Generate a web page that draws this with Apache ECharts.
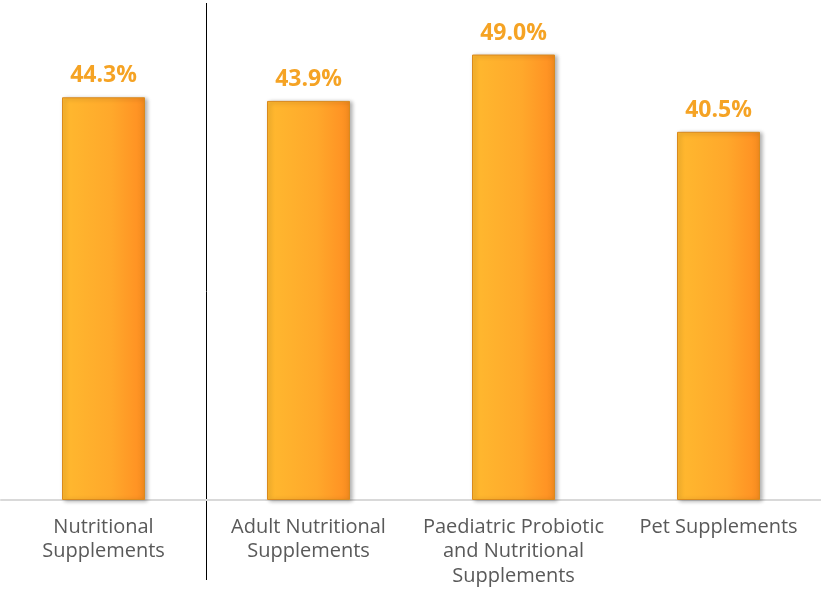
<!DOCTYPE html>
<html><head><meta charset="utf-8">
<script src="https://cdn.jsdelivr.net/npm/echarts@6/dist/echarts.min.js"></script>
<style>html,body{margin:0;padding:0;background:#fff}#c{width:821px;height:589px}</style>
</head><body><div id="c"></div>
<script>
const categories = ['Nutritional\nSupplements', 'Adult Nutritional\nSupplements', 'Paediatric Probiotic\nand Nutritional\nSupplements', 'Pet Supplements'];
const values = [44.3, 43.9, 49.0, 40.5];

const chart = echarts.init(document.getElementById('c'));
const barColor = new echarts.graphic.LinearGradient(0, 0, 1, 0, [
  {offset: 0, color: '#FFB92F'},
  {offset: 0.6, color: '#FFA82B'},
  {offset: 0.9, color: '#FF9424'},
  {offset: 1, color: '#F28A1E'}
]);
chart.setOption({
  animation: false,
  grid: {left: 1, width: 822, top: 0, height: 500},
  xAxis: {
    type: 'category', data: categories,
    axisLine: {lineStyle: {color: '#D9D9D9', width: 2}},
    axisTick: {show: false},
    axisLabel: {color: '#595959', fontSize: 20, lineHeight: 24.5, margin: 15, fontFamily: 'Open Sans', interval: 0}
  },
  yAxis: {type: 'value', min: 0, max: 55, show: false, splitLine: {show: false}},
  series: [{
    type: 'bar', data: values, barWidth: 83,
    itemStyle: {
      color: barColor,
      borderColor: '#D98A1E', borderWidth: 1,
      shadowColor: 'rgba(0,0,0,0.3)', shadowBlur: 4, shadowOffsetX: 2, shadowOffsetY: 1
    },
    label: {
      show: true, position: 'top', distance: 10,
      formatter: p => p.value.toFixed(1) + '%',
      color: '#F5A324', fontSize: 23, fontWeight: 'bold', fontFamily: 'Open Sans'
    }
  }]
});
const x0 = chart.convertToPixel({xAxisIndex: 0}, 0);
const x1 = chart.convertToPixel({xAxisIndex: 0}, 1);
const xs = Math.round((x0 + x1) / 2) + 0.5;
chart.setOption({
  graphic: [{type: 'line', shape: {x1: xs, y1: 3, x2: xs, y2: 580}, style: {stroke: '#000', lineWidth: 1}}]
});
</script></body></html>
